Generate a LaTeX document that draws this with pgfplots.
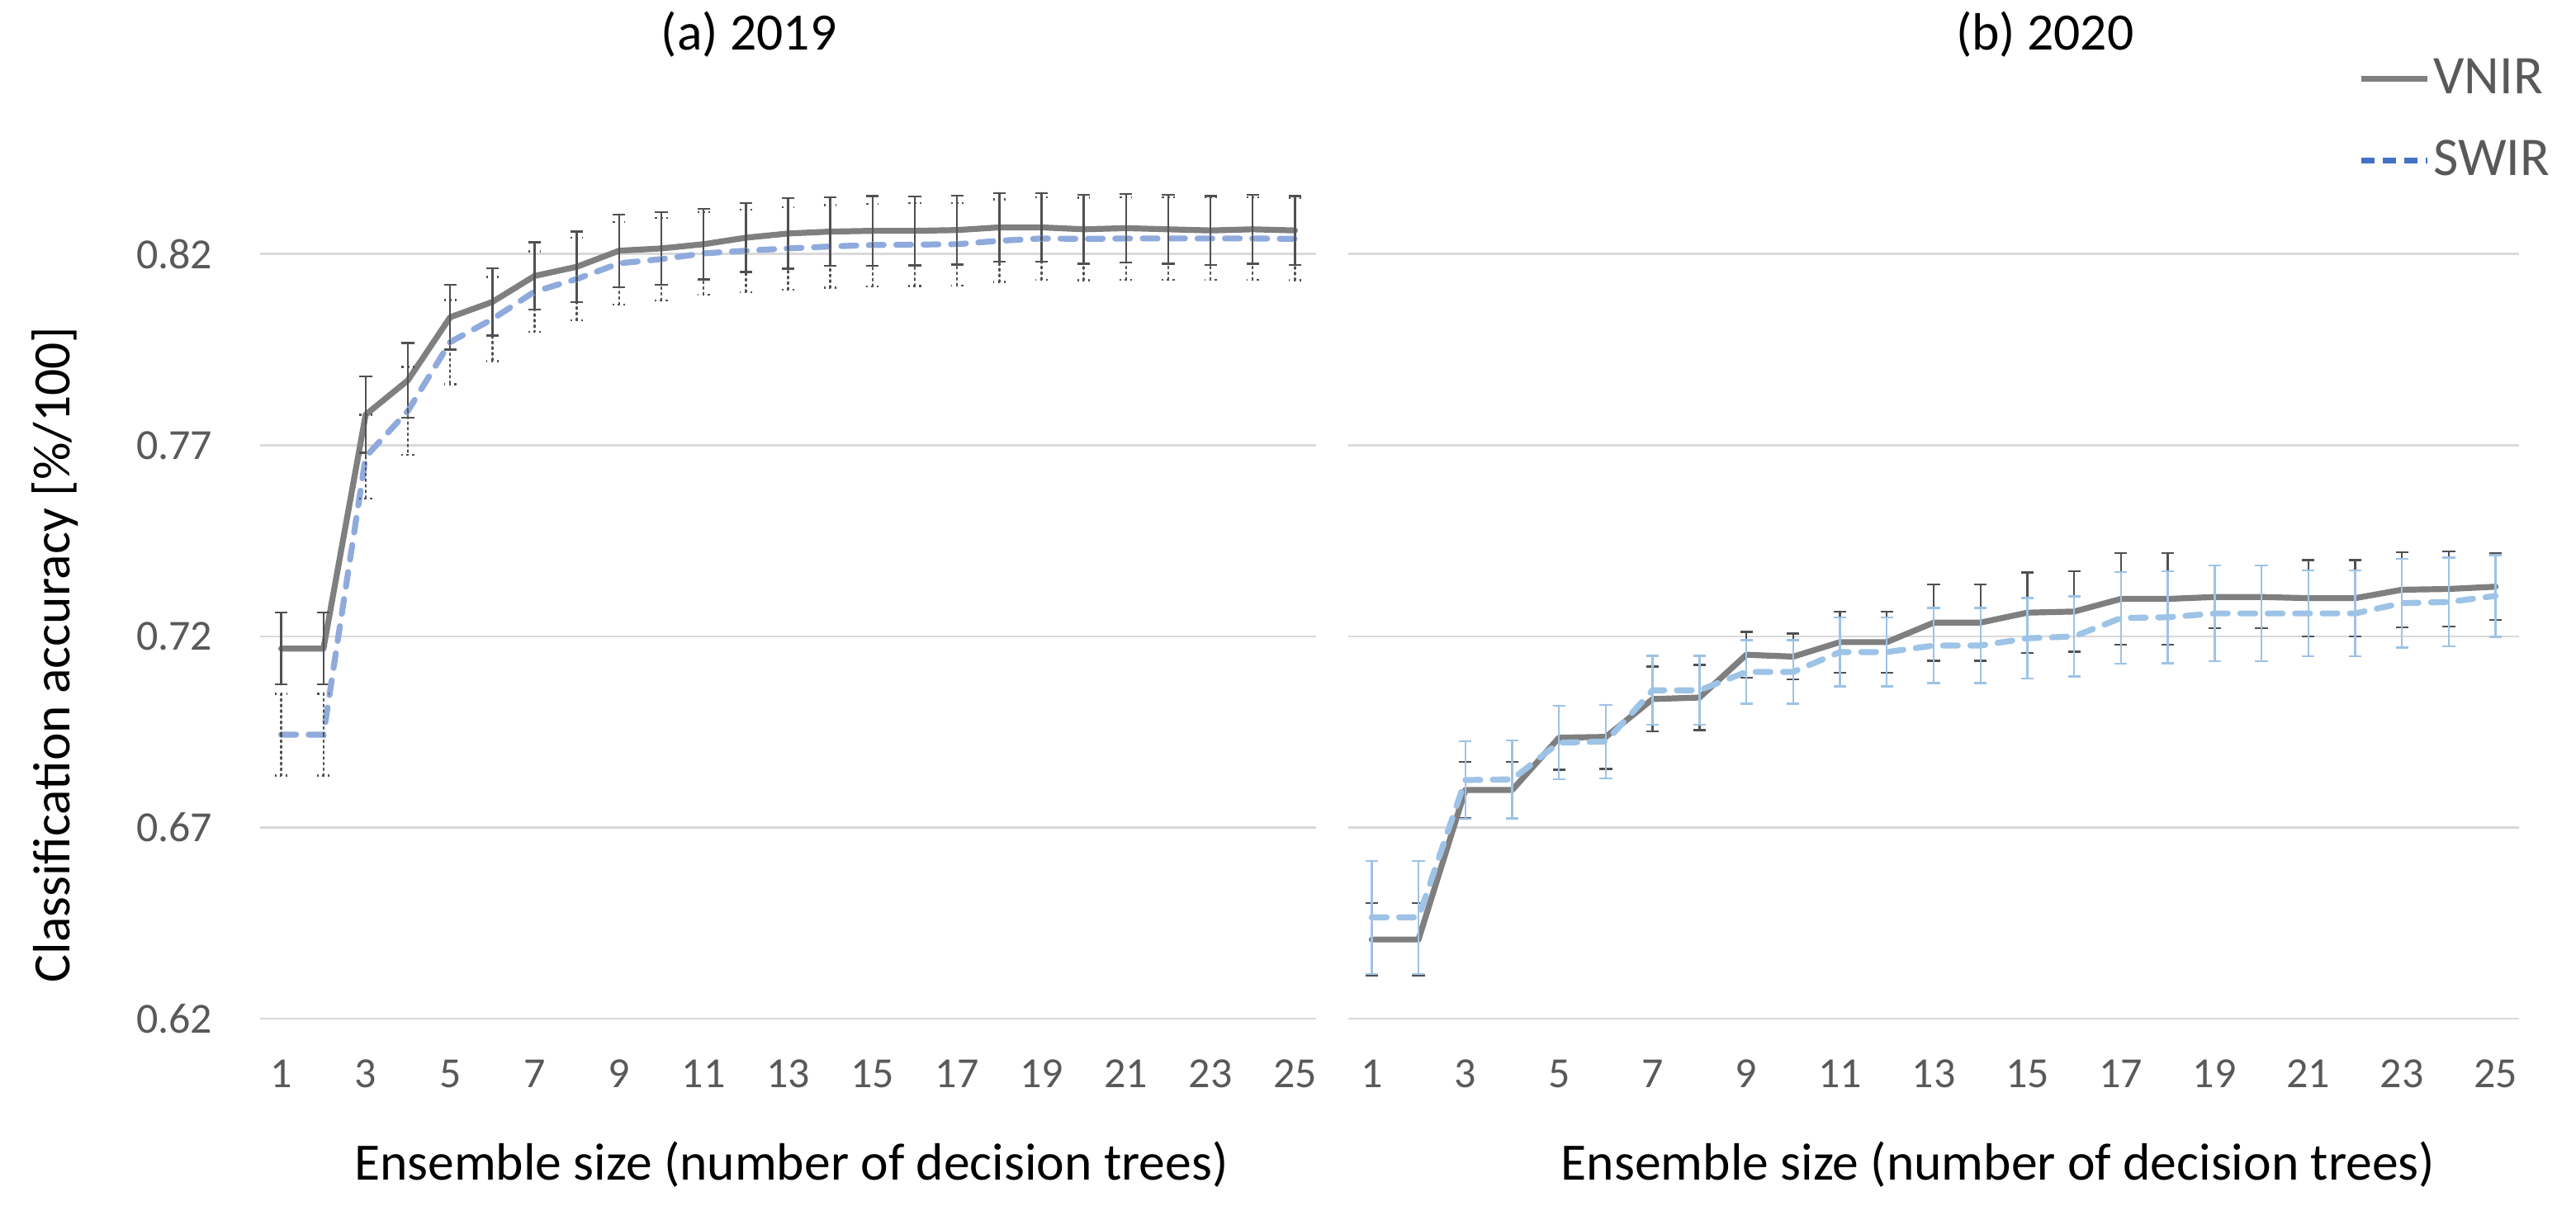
\documentclass[border=0pt]{standalone}
\usepackage{pgfplots}
\pgfplotsset{compat=1.18}
\usepackage{pgfplotstable}
\usepackage{fontspec}
\setmainfont{Carlito}

\definecolor{vnir}{HTML}{7F7F7F}
\definecolor{vnirbar}{HTML}{505050}
\definecolor{swirA}{HTML}{8FAADC}
\definecolor{swirB}{HTML}{9DC3E6}
\definecolor{swirleg}{HTML}{4472C4}
\definecolor{gridc}{HTML}{D9D9D9}
\definecolor{tickc}{HTML}{595959}

% 2019
\pgfplotstableread{
n acc err
1 0.7168 0.0094
2 0.7168 0.0094
3 0.7780 0.0100
4 0.7870 0.0098
5 0.8035 0.0085
6 0.8075 0.0088
7 0.8143 0.0088
8 0.8167 0.0092
9 0.8209 0.0095
10 0.8215 0.0095
11 0.8226 0.0092
12 0.8243 0.0090
13 0.8254 0.0092
14 0.8259 0.0090
15 0.8261 0.0091
16 0.8261 0.0090
17 0.8263 0.0090
18 0.8270 0.0090
19 0.8270 0.0090
20 0.8265 0.0090
21 0.8268 0.0090
22 0.8265 0.0090
23 0.8262 0.0090
24 0.8265 0.0090
25 0.8262 0.0090
}\vnirA

\pgfplotstableread{
n acc err
1 0.6943 0.0107
2 0.6943 0.0107
3 0.7670 0.0110
4 0.7790 0.0115
5 0.7970 0.0110
6 0.8030 0.0110
7 0.8102 0.0105
8 0.8135 0.0108
9 0.8176 0.0108
10 0.8187 0.0108
11 0.8202 0.0108
12 0.8209 0.0108
13 0.8215 0.0108
14 0.8220 0.0108
15 0.8224 0.0108
16 0.8225 0.0108
17 0.8226 0.0108
18 0.8235 0.0108
19 0.8241 0.0108
20 0.8240 0.0108
21 0.8241 0.0108
22 0.8241 0.0108
23 0.8241 0.0108
24 0.8241 0.0108
25 0.8240 0.0108
}\swirA

% 2020
\pgfplotstableread{
n acc err
1 0.6407 0.0095
2 0.6407 0.0095
3 0.6798 0.0074
4 0.6798 0.0074
5 0.6935 0.0084
6 0.6937 0.0084
7 0.7036 0.0085
8 0.7040 0.0085
9 0.7152 0.0060
10 0.7147 0.0060
11 0.7185 0.0080
12 0.7185 0.0080
13 0.7236 0.0100
14 0.7236 0.0100
15 0.7262 0.0105
16 0.7265 0.0105
17 0.7298 0.0120
18 0.7298 0.0120
19 0.7303 0.0082
20 0.7303 0.0082
21 0.7300 0.0100
22 0.7300 0.0100
23 0.7322 0.0098
24 0.7324 0.0098
25 0.7330 0.0087
}\vnirB

\pgfplotstableread{
n acc err
1 0.6465 0.0148
2 0.6465 0.0148
3 0.6824 0.0102
4 0.6826 0.0102
5 0.6922 0.0096
6 0.6925 0.0096
7 0.7059 0.0090
8 0.7059 0.0090
9 0.7107 0.0083
10 0.7107 0.0083
11 0.7159 0.0090
12 0.7159 0.0090
13 0.7176 0.0098
14 0.7176 0.0098
15 0.7195 0.0105
16 0.7200 0.0105
17 0.7248 0.0120
18 0.7250 0.0120
19 0.7260 0.0125
20 0.7260 0.0125
21 0.7260 0.0112
22 0.7260 0.0112
23 0.7287 0.0116
24 0.7290 0.0116
25 0.7306 0.0107
}\swirB

\pgfplotsset{
  accaxis/.style={
    scale only axis, height=266.25pt,
    xmin=0.5, xmax=25.5, ymin=0.62, ymax=0.85,
    xtick={1,3,...,25}, ytick={0.62,0.67,0.72,0.77,0.82},
    ymajorgrids, grid style={color=gridc, line width=0.7pt},
    axis line style={draw=none}, major tick length=0pt,
    tick label style={font=\fontsize{13}{15}\selectfont, text=tickc, inner sep=0pt},
    xticklabel style={anchor=base, yshift=-21pt},
    yticklabel style={anchor=east, xshift=-14.25pt,
      /pgf/number format/.cd, fixed, fixed zerofill, precision=2},
    /pgf/number format/assume math mode=true,
    label style={font=\fontsize{15.9}{18}\selectfont, inner sep=0pt},
    title style={font=\fontsize{15.9}{18}\selectfont, anchor=base, yshift=21pt, inner sep=0pt},
    xlabel style={anchor=base, yshift=-49pt},
    xlabel={Ensemble size (number of decision trees)},
    clip=false,
  },
  vline/.style={color=vnir, line width=1.8pt, line join=round, line cap=round},
  sline/.style={line width=1.8pt, line cap=round, dash pattern=on 4.5pt off 3.8pt},
}

\begin{document}
\begin{tikzpicture}
\path[use as bounding box] (0,0) rectangle (780pt,371pt);

\begin{axis}[accaxis,
  at={(78.75pt,62.5pt)}, anchor=south west, width=319.75pt,
  title={(a) 2019}, title style={at={(axis description cs:0.463,1)}},
  xlabel style={at={(axis description cs:0.503,0)}},
  ylabel={Classification accuracy [\%/100]},
  ylabel style={at={(axis description cs:-0.194,0.414)}, anchor=center},
]
\addplot[vline, mark=none,
  error bars/.cd, y dir=both, y explicit,
  error bar style={color=vnirbar, line width=0.6pt, solid},
  error mark options={rotate=90, mark size=1.9pt, color=vnirbar, line width=0.6pt, solid}]
  table[x=n, y=acc, y error=err] {\vnirA};
\addplot[sline, color=swirA, mark=none,
  error bars/.cd, y dir=both, y explicit,
  error bar style={color=vnirbar, line width=0.6pt, dash pattern=on 0.6pt off 1.1pt},
  error mark options={rotate=90, mark size=1.9pt, color=vnirbar, line width=0.6pt, dash pattern=on 0.6pt off 1.1pt}]
  table[x=n, y=acc, y error=err] {\swirA};
\end{axis}

\begin{axis}[accaxis,
  at={(408.25pt,62.5pt)}, anchor=south west, width=354.5pt,
  yticklabels={},
  title={(b) 2020}, title style={at={(axis description cs:0.595,1)}},
  xlabel style={at={(axis description cs:0.555,0)}},
  legend cell align=left,
  legend image code/.code={\draw[#1] (0pt,0pt) -- (20pt,0pt);},
  legend style={at={(axis description cs:0.862,1.0225)}, anchor=west,
    draw=none, fill=none, inner sep=0pt, row sep=10.5pt,
    font=\fontsize{16.5}{18}\selectfont, text=tickc,
    nodes={inner sep=1pt}},
]
\addlegendimage{vline, line cap=butt}
\addlegendentry{VNIR}
\addlegendimage{sline, color=swirleg, line cap=butt, dash pattern=on 4pt off 2.5pt}
\addlegendentry{SWIR}
\addplot[vline, mark=none, forget plot,
  error bars/.cd, y dir=both, y explicit,
  error bar style={color=vnirbar, line width=0.6pt, solid},
  error mark options={rotate=90, mark size=1.9pt, color=vnirbar, line width=0.6pt, solid}]
  table[x=n, y=acc, y error=err] {\vnirB};
\addplot[sline, color=swirB, mark=none, forget plot,
  error bars/.cd, y dir=both, y explicit,
  error bar style={color=swirB, line width=0.6pt, solid},
  error mark options={rotate=90, mark size=1.9pt, color=swirB, line width=0.6pt, solid}]
  table[x=n, y=acc, y error=err] {\swirB};
\end{axis}
\end{tikzpicture}
\end{document}
